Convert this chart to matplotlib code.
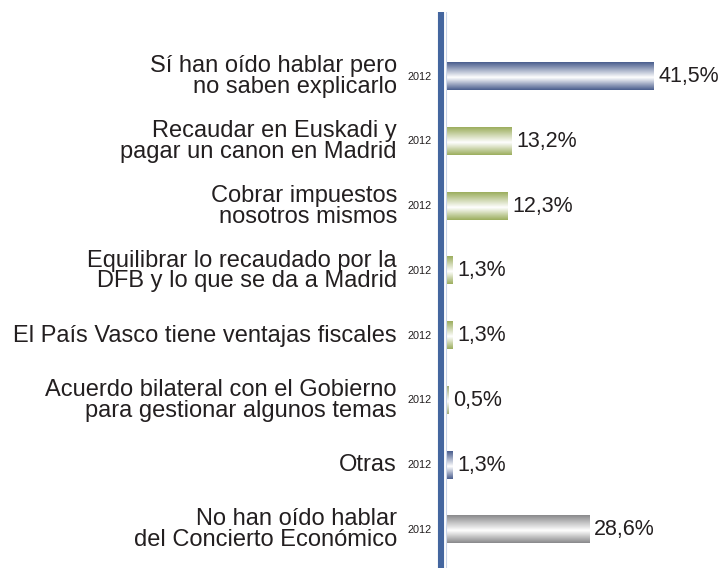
import matplotlib
matplotlib.use("Agg")
import matplotlib.pyplot as plt
import numpy as np
from matplotlib.colors import LinearSegmentedColormap

plt.rcParams['font.family'] = ['Liberation Sans', 'DejaVu Sans']

categories = [
    "Sí han oído hablar pero\nno saben explicarlo",
    "Recaudar en Euskadi y\npagar un canon en Madrid",
    "Cobrar impuestos\nnosotros mismos",
    "Equilibrar lo recaudado por la\nDFB y lo que se da a Madrid",
    "El País Vasco tiene ventajas fiscales",
    "Acuerdo bilateral con el Gobierno\npara gestionar algunos temas",
    "Otras",
    "No han oído hablar\ndel Concierto Económico",
]
values = [41.5, 13.2, 12.3, 1.3, 1.3, 0.5, 1.3, 28.6]
value_labels = ["41,5%", "13,2%", "12,3%", "1,3%", "1,3%", "0,5%", "1,3%", "28,6%"]
year_label = "2012"
bar_tones = ["#4a5e8e", "#9cae5e", "#9cae5e", "#9cae5e", "#9cae5e", "#a3ad78", "#4a5e8e", "#8a8a8c"]

W, H = 721, 568
fig = plt.figure(figsize=(W / 100, H / 100), dpi=100)
ax = fig.add_axes([436 / W, 0, 1 - 436 / W, (568 - 12) / H])
ax.set_xlim(-2.0, 55.0)
ax.set_ylim(7.59, -1.0)
ax.axis('off')

y = np.arange(len(categories))
bar_h = 0.42
bars = ax.barh(y, values, height=bar_h, color='none', edgecolor='none')

for b, tone in zip(bars, bar_tones):
    x0, y0 = b.get_x(), b.get_y()
    w, h = b.get_width(), b.get_height()
    cmap = LinearSegmentedColormap.from_list(
        "g", [(0, tone), (0.55, "#ffffff"), (1.0, tone)])
    grad = np.linspace(0, 1, 64).reshape(-1, 1)
    ax.imshow(grad, cmap=cmap, aspect='auto', interpolation='bilinear',
              extent=(x0, x0 + w, y0 + h, y0), zorder=2)

ax.set_xlim(-2.0, 55.0)
ax.set_ylim(7.59, -1.0)

# vertical axis line
ax.axvline(-0.9, color="#44669f", lw=4.4, zorder=3, ymin=0, ymax=1)
ax.axvline(-0.05, color="#c9d5ea", lw=0.8, zorder=3)

txt = "#231f20"
for yi, cat, v, vl in zip(y, categories, values, value_labels):
    ax.annotate(cat, xy=(0, yi), xytext=(-35.3, 0), textcoords='offset points',
                ha='right', va='center', fontsize=17, color=txt, linespacing=0.93)
    ax.annotate(year_label, xy=(0, yi), xytext=(-18.7, 0), textcoords='offset points',
                ha='center', va='center', fontsize=7.8, color=txt)
    ax.annotate(vl, xy=(v, yi), xytext=(3.5, 0), textcoords='offset points',
                ha='left', va='center', fontsize=15.5, color=txt)

fig.savefig("out.png", dpi=100)
